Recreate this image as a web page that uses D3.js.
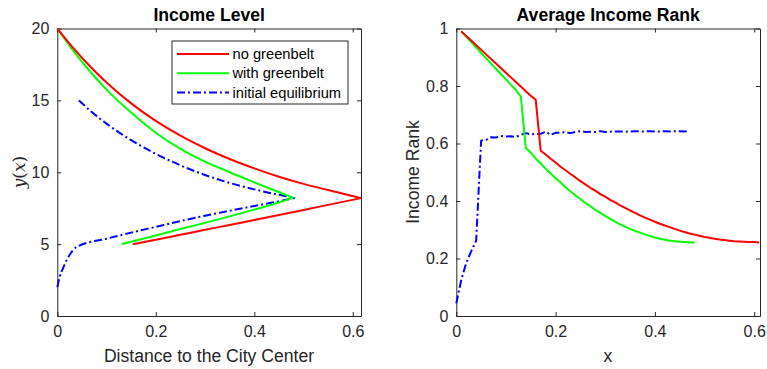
<!DOCTYPE html>
<html>
<head>
<meta charset="utf-8">
<script src="https://cdn.jsdelivr.net/npm/d3@7/dist/d3.min.js"></script>
<style>
  html, body { margin: 0; padding: 0; background: #fff; }
  svg { display: block; font-family: "Liberation Sans", Arial, Helvetica, sans-serif; }
</style>
</head>
<body>
<svg id="chart" width="767" height="369"></svg>
<script>
// ---------- Income level y(x): each curve is an upper and a lower branch ----------
const redUpperX   = [0, 0.03, 0.06, 0.10, 0.15, 0.20, 0.25, 0.30, 0.35, 0.40, 0.45, 0.50, 0.55, 0.6167];
const redUpperY   = [20, 18.74, 17.6, 16.24, 14.79, 13.57, 12.54, 11.67, 10.92, 10.27, 9.69, 9.19, 8.76, 8.2];
const redLowerX   = [0.153, 0.2, 0.25, 0.3, 0.35, 0.4, 0.45, 0.5, 0.55, 0.6167];
const redLowerY   = [5.0, 5.3, 5.65, 6.0, 6.33, 6.68, 7.02, 7.38, 7.73, 8.2];

const greenUpperX = [0, 0.03, 0.06, 0.10, 0.15, 0.20, 0.25, 0.30, 0.35, 0.40, 0.44, 0.479];
const greenUpperY = [20, 18.56, 17.27, 15.75, 14.15, 12.75, 11.62, 10.74, 10.0, 9.3, 8.75, 8.22];
const greenLowerX = [0.131, 0.2, 0.25, 0.3, 0.35, 0.4, 0.45, 0.479];
const greenLowerY = [5.0, 5.6, 6.05, 6.48, 6.93, 7.4, 7.9, 8.22];

const blueUpperX  = [0.044, 0.07, 0.10, 0.15, 0.20, 0.25, 0.30, 0.35, 0.40, 0.45, 0.483];
const blueUpperY  = [15.0, 14.19, 13.38, 12.23, 11.28, 10.48, 9.81, 9.26, 8.81, 8.43, 8.22];
const blueLowerX  = [0, 0.005, 0.012, 0.019, 0.026, 0.032, 0.038, 0.043, 0.1, 0.15, 0.2, 0.25, 0.3, 0.35, 0.4, 0.45, 0.483];
const blueLowerY  = [2.0, 2.73, 3.35, 3.89, 4.3, 4.59, 4.78, 4.87, 5.38, 5.8, 6.2, 6.6, 6.98, 7.32, 7.65, 7.98, 8.22];

// ---------- Average income rank ----------
const redRankX = [0.01, 0.02, 0.03, 0.04, 0.05, 0.06, 0.07, 0.08, 0.09, 0.10, 0.11, 0.12, 0.13, 0.14, 0.15, 0.16,
  0.17, 0.18, 0.19, 0.20, 0.21, 0.22, 0.23, 0.24, 0.25, 0.26, 0.27, 0.28, 0.29, 0.30, 0.31, 0.32, 0.33, 0.34, 0.35,
  0.36, 0.37, 0.38, 0.39, 0.40, 0.41, 0.42, 0.43, 0.44, 0.45, 0.46, 0.47, 0.48, 0.49, 0.50, 0.51, 0.52, 0.53, 0.54,
  0.55, 0.56, 0.57, 0.58, 0.59, 0.60, 0.61];
const redRank = [0.99, 0.974, 0.958, 0.942, 0.926, 0.91, 0.894, 0.878, 0.862, 0.846, 0.83, 0.814, 0.798, 0.782, 0.766, 0.752,
  0.575, 0.562, 0.547, 0.534, 0.519, 0.507, 0.494, 0.482, 0.469, 0.458, 0.446, 0.436, 0.424, 0.415, 0.404, 0.395, 0.385, 0.376, 0.367,
  0.359, 0.350, 0.342, 0.335, 0.328, 0.321, 0.315, 0.309, 0.303, 0.297, 0.292, 0.287, 0.283, 0.279, 0.275, 0.272, 0.269, 0.266, 0.264,
  0.262, 0.260, 0.259, 0.258, 0.257, 0.257, 0.256];

const greenRankX = [0.01, 0.02, 0.03, 0.04, 0.05, 0.06, 0.07, 0.08, 0.09, 0.10, 0.11, 0.12, 0.13,
  0.14, 0.15, 0.16, 0.17, 0.18, 0.19, 0.20, 0.21, 0.22, 0.23, 0.24, 0.25, 0.26, 0.27, 0.28, 0.29, 0.30,
  0.31, 0.32, 0.33, 0.34, 0.35, 0.36, 0.37, 0.38, 0.39, 0.40, 0.41, 0.42, 0.43, 0.44, 0.45, 0.46, 0.47, 0.48];
const greenRank = [0.99, 0.971, 0.953, 0.934, 0.915, 0.897, 0.878, 0.860, 0.841, 0.823, 0.804, 0.786, 0.763,
  0.585, 0.568, 0.547, 0.531, 0.512, 0.496, 0.479, 0.464, 0.448, 0.434, 0.419, 0.407, 0.393, 0.382, 0.369, 0.359, 0.348,
  0.338, 0.328, 0.319, 0.311, 0.303, 0.296, 0.290, 0.284, 0.278, 0.273, 0.269, 0.265, 0.262, 0.260, 0.258, 0.257, 0.256, 0.256];

const blueRankX = [0, 0.01, 0.02, 0.03, 0.04, 0.05, 0.06, 0.07, 0.08, 0.09, 0.10, 0.11, 0.12, 0.13, 0.14, 0.15, 0.16,
  0.17, 0.18, 0.19, 0.20, 0.21, 0.22, 0.23, 0.24, 0.25, 0.26, 0.27, 0.28, 0.29, 0.30, 0.31, 0.32, 0.33, 0.34,
  0.35, 0.36, 0.37, 0.38, 0.39, 0.40, 0.41, 0.42, 0.43, 0.44, 0.45, 0.46, 0.47];
const blueRank = [0.044, 0.125, 0.185, 0.225, 0.262, 0.61, 0.613, 0.622, 0.621, 0.626, 0.624, 0.625, 0.623, 0.630, 0.636, 0.632, 0.633,
  0.634, 0.641, 0.630, 0.637, 0.638, 0.639, 0.636, 0.640, 0.643, 0.640, 0.641, 0.640, 0.643, 0.640, 0.641, 0.642, 0.642, 0.641,
  0.642, 0.643, 0.642, 0.642, 0.643, 0.642, 0.642, 0.643, 0.642, 0.643, 0.643, 0.642, 0.643];

// ---------- Axis ticks and labels ----------
const distTicks   = [0, 0.2, 0.4, 0.6];
const incomeTicks = [0, 5, 10, 15, 20];
const rankTicks   = [0, 0.2, 0.4, 0.6, 0.8, 1];
const legendNames = ["no greenbelt", "with greenbelt", "initial equilibrium"];

const RED = "#ff0000", GREEN = "#00ff00", BLUE = "#0000ff";
const AXIS = "#262626";
const DASHDOT = "8,3,2,3";
const LW = 2;

const svg = d3.select("#chart");
const zip = (xs, ys) => xs.map((x, i) => [x, ys[i]]);

function drawPanel(opt) {
  const { left, right, top, bottom } = opt;
  const x = d3.scaleLinear().domain(opt.xDomain).range([left, right]);
  const y = d3.scaleLinear().domain(opt.yDomain).range([bottom, top]);
  const g = svg.append("g");

  // box frame with inward ticks on all four sides
  const tickLen = 4;
  const fmt = d3.format("~g");
  const axB = d3.axisBottom(x).tickValues(opt.xTicks).tickSizeInner(-tickLen).tickSizeOuter(0).tickFormat(fmt).tickPadding(10);
  const axT = d3.axisTop(x).tickValues(opt.xTicks).tickSizeInner(-tickLen).tickSizeOuter(0).tickFormat("");
  const axL = d3.axisLeft(y).tickValues(opt.yTicks).tickSizeInner(-tickLen).tickSizeOuter(0).tickFormat(fmt).tickPadding(8);
  const axR = d3.axisRight(y).tickValues(opt.yTicks).tickSizeInner(-tickLen).tickSizeOuter(0).tickFormat("");

  const gB = g.append("g").attr("transform", `translate(0,${bottom})`).call(axB);
  const gT = g.append("g").attr("transform", `translate(0,${top})`).call(axT);
  const gL = g.append("g").attr("transform", `translate(${left},0)`).call(axL);
  const gR = g.append("g").attr("transform", `translate(${right},0)`).call(axR);
  [gB, gT, gL, gR].forEach(a => {
    a.select(".domain").attr("stroke", AXIS).attr("stroke-width", 1);
    a.selectAll(".tick line").attr("stroke", AXIS).attr("stroke-width", 1);
    a.selectAll(".tick text").attr("fill", AXIS).style("font-size", "16px")
      .style("font-family", '"Liberation Sans", Arial, sans-serif');
  });

  // curves
  const line = d3.line().x(d => x(d[0])).y(d => y(d[1])).curve(opt.curve);
  opt.series.forEach(s => {
    g.append("path").datum(s.pts)
      .attr("fill", "none").attr("stroke", s.color).attr("stroke-width", LW)
      .attr("stroke-linejoin", "round")
      .attr("stroke-dasharray", s.dash || null)
      .attr("d", line);
  });

  // title
  g.append("text").attr("x", (left + right) / 2).attr("y", 21)
    .attr("text-anchor", "middle").attr("fill", "#000")
    .style("font-size", "17.6px").style("font-weight", "bold")
    .text(opt.title);

  return { g, x, y };
}

// ---- left panel: income level ----
const L = drawPanel({
  left: 57.3, right: 361, top: 28.5, bottom: 316,
  xDomain: [0, 0.6167], yDomain: [0, 20],
  xTicks: distTicks, yTicks: incomeTicks,
  curve: d3.curveMonotoneX,
  title: "Income Level",
  series: [
    { color: BLUE,  dash: DASHDOT, pts: zip(blueUpperX, blueUpperY) },
    { color: BLUE,  dash: DASHDOT, pts: zip(blueLowerX, blueLowerY) },
    { color: GREEN, pts: zip(greenUpperX, greenUpperY) },
    { color: GREEN, pts: zip(greenLowerX, greenLowerY) },
    { color: RED,   pts: zip(redUpperX, redUpperY) },
    { color: RED,   pts: zip(redLowerX, redLowerY) }
  ]
});

L.g.append("text").attr("x", 209).attr("y", 362).attr("text-anchor", "middle")
  .attr("fill", AXIS).style("font-size", "17.6px").text("Distance to the City Center");

// y(x) in math style: italic symbols, upright parentheses
const yl = L.g.append("text").attr("transform", "translate(25,172) rotate(-90)")
  .attr("text-anchor", "middle").attr("fill", AXIS)
  .style("font-family", '"DejaVu Serif", "Liberation Serif", serif').style("font-size", "17px");
yl.append("tspan").style("font-style", "italic").text("y");
yl.append("tspan").text("(");
yl.append("tspan").style("font-style", "italic").text("x");
yl.append("tspan").text(")");

// legend
const lg = L.g.append("g");
lg.append("rect").attr("x", 172).attr("y", 41).attr("width", 176).attr("height", 63)
  .attr("fill", "#fff").attr("stroke", AXIS).attr("stroke-width", 1);
const legendStyles = [{ color: RED }, { color: GREEN }, { color: BLUE, dash: DASHDOT }];
legendNames.forEach((name, i) => {
  const cy = 54 + i * 19.3;
  lg.append("line").attr("x1", 177).attr("x2", 229).attr("y1", cy).attr("y2", cy)
    .attr("stroke", legendStyles[i].color).attr("stroke-width", LW)
    .attr("stroke-dasharray", legendStyles[i].dash || null);
  lg.append("text").attr("x", 232.5).attr("y", cy + 5).attr("fill", "#000")
    .style("font-size", "14.7px").text(name);
});

// ---- right panel: average income rank ----
const R = drawPanel({
  left: 456.3, right: 760, top: 28.5, bottom: 316,
  xDomain: [0, 0.6117], yDomain: [0, 1],
  xTicks: distTicks, yTicks: rankTicks,
  curve: d3.curveLinear,
  title: "Average Income Rank",
  series: [
    { color: BLUE,  dash: DASHDOT, pts: zip(blueRankX, blueRank) },
    { color: GREEN, pts: zip(greenRankX, greenRank) },
    { color: RED,   pts: zip(redRankX, redRank) }
  ]
});

R.g.append("text").attr("x", 608).attr("y", 362).attr("text-anchor", "middle")
  .attr("fill", AXIS).style("font-size", "17.6px").text("x");
R.g.append("text").attr("transform", "translate(419,172) rotate(-90)")
  .attr("text-anchor", "middle").attr("fill", AXIS)
  .style("font-size", "17.6px").text("Income Rank");
</script>
</body>
</html>
